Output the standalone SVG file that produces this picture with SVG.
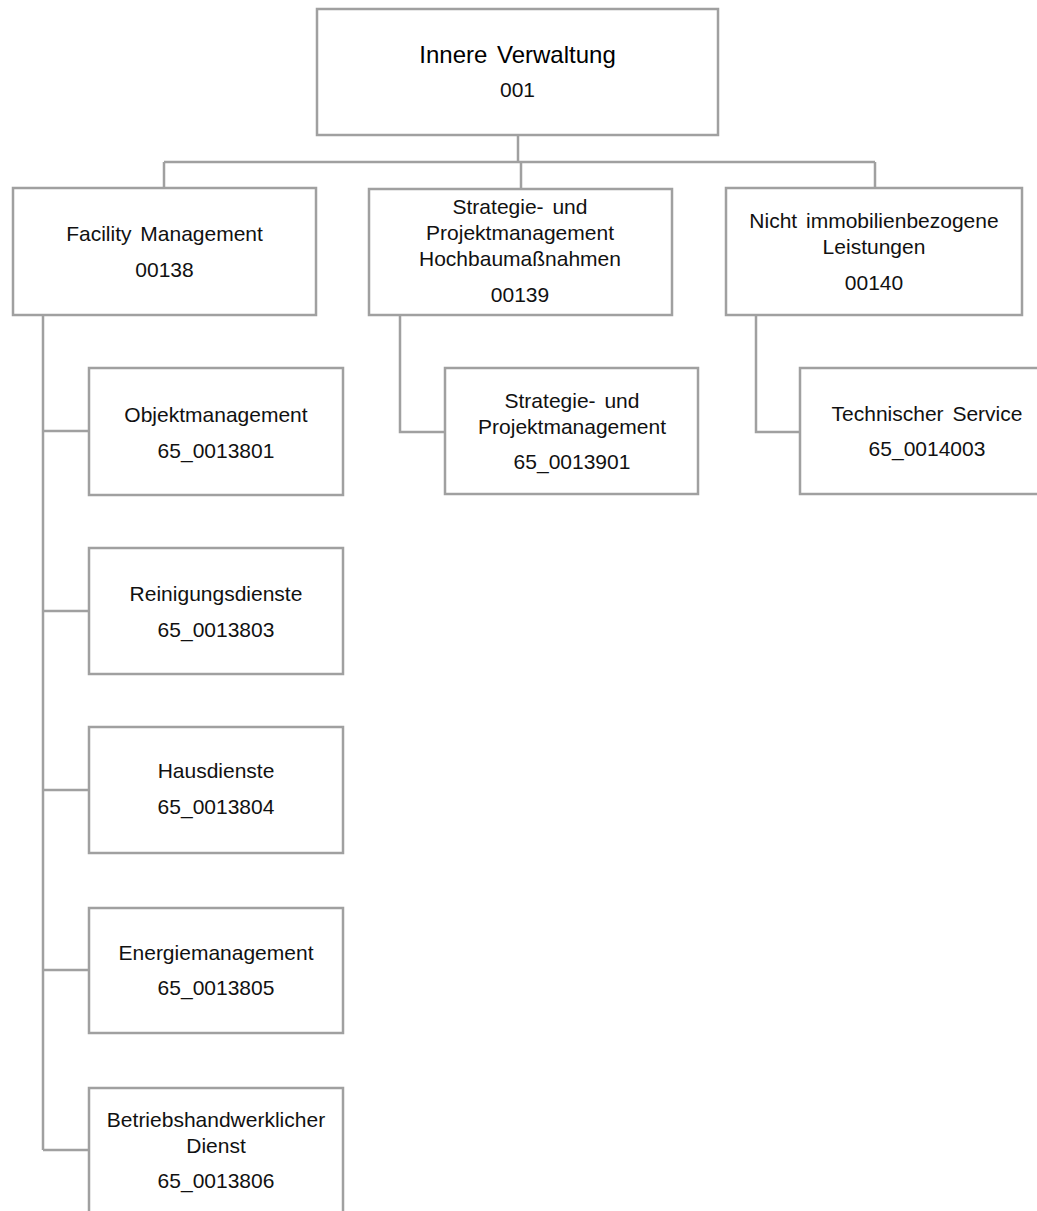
<svg xmlns="http://www.w3.org/2000/svg" width="1037" height="1211" viewBox="0 0 1037 1211">
<style>
  .box { fill: #ffffff; stroke: #a0a0a0; stroke-width: 2.5; }
  .conn { fill: none; stroke: #a0a0a0; stroke-width: 2.5; }
  text { font-family: "Liberation Sans", Arial, sans-serif; font-size: 21px; fill: #111111; text-anchor: middle; word-spacing: 3px; }
  .title { font-size: 24px; fill: #000000; }
</style>
<rect width="1037" height="1211" fill="#ffffff"/>
<g id="connectors">
  <path class="conn" d="M518,135 V162 M164,162 H875 M164,162 V188 M521,162 V189 M875,162 V188"/>
  <path class="conn" d="M43,315 V1150 M43,431 H89 M43,611 H89 M43,790 H89 M43,970 H89 M43,1150 H89"/>
  <path class="conn" d="M400,315 V432 H445"/>
  <path class="conn" d="M756,315 V432 H800"/>
</g>
<g id="n001">
  <rect class="box" x="317" y="9" width="401" height="126"/>
  <text class="title" x="517.5" y="63">Innere Verwaltung</text>
  <text x="517.5" y="97">001</text>
</g>
<g id="n00138">
  <rect class="box" x="13" y="188" width="303" height="127"/>
  <text x="164.5" y="241">Facility Management</text>
  <text x="164.5" y="277">00138</text>
</g>
<g id="n00139">
  <rect class="box" x="369" y="189" width="303" height="126"/>
  <text x="520" y="214">Strategie- und</text>
  <text x="520" y="240">Projektmanagement</text>
  <text x="520" y="266">Hochbaumaßnahmen</text>
  <text x="520" y="302">00139</text>
</g>
<g id="n00140">
  <rect class="box" x="726" y="188" width="296" height="127"/>
  <text x="874" y="228">Nicht immobilienbezogene</text>
  <text x="874" y="254">Leistungen</text>
  <text x="874" y="290">00140</text>
</g>
<g id="n0013801">
  <rect class="box" x="89" y="368" width="254" height="127"/>
  <text x="216" y="422">Objektmanagement</text>
  <text x="216" y="458">65_0013801</text>
</g>
<g id="n0013803">
  <rect class="box" x="89" y="548" width="254" height="126"/>
  <text x="216" y="601">Reinigungsdienste</text>
  <text x="216" y="637">65_0013803</text>
</g>
<g id="n0013804">
  <rect class="box" x="89" y="727" width="254" height="126"/>
  <text x="216" y="778">Hausdienste</text>
  <text x="216" y="814">65_0013804</text>
</g>
<g id="n0013805">
  <rect class="box" x="89" y="908" width="254" height="125"/>
  <text x="216" y="960">Energiemanagement</text>
  <text x="216" y="995">65_0013805</text>
</g>
<g id="n0013806">
  <rect class="box" x="89" y="1088" width="254" height="150"/>
  <text x="216" y="1127">Betriebshandwerklicher</text>
  <text x="216" y="1153">Dienst</text>
  <text x="216" y="1188">65_0013806</text>
</g>
<g id="n0013901">
  <rect class="box" x="445" y="368" width="253" height="126"/>
  <text x="572" y="408">Strategie- und</text>
  <text x="572" y="434">Projektmanagement</text>
  <text x="572" y="469">65_0013901</text>
</g>
<g id="n0014003">
  <rect class="box" x="800" y="368" width="253" height="126"/>
  <text x="927" y="421">Technischer Service</text>
  <text x="927" y="456">65_0014003</text>
</g>
</svg>
